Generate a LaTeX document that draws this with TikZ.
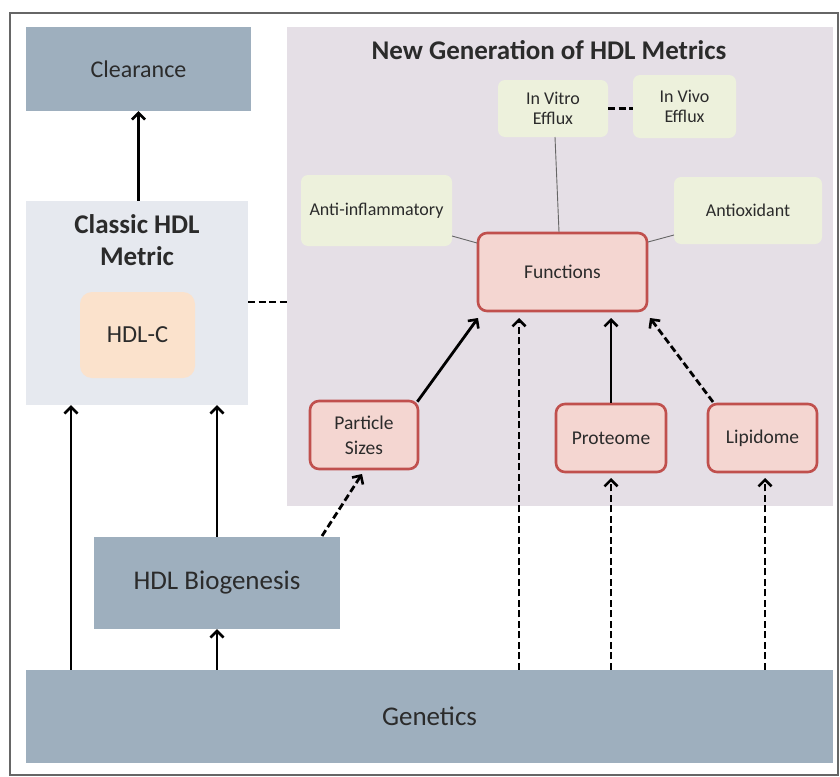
\documentclass[tikz,border=0pt]{standalone}
\usepackage{fontspec}
\setmainfont{Carlito}
\usetikzlibrary{arrows.meta}
\definecolor{slate}{HTML}{9EAFBE}
\definecolor{classicbg}{HTML}{E6E9EF}
\definecolor{peach}{HTML}{FBE2CC}
\definecolor{lav}{HTML}{E5DFE6}
\definecolor{leaf}{HTML}{EDF1DC}
\definecolor{pinkfill}{HTML}{F4D6D1}
\definecolor{redline}{HTML}{C0504D}
\definecolor{txt}{HTML}{2B2B2B}
\tikzset{
  slatebox/.style={fill=slate, draw=none, inner sep=0pt, text=txt},
  leafbox/.style={fill=leaf, draw=none, rounded corners=7pt, inner sep=0pt, text=txt, font=\fontsize{18}{20}\selectfont, align=center},
  redbox/.style={fill=pinkfill, draw=redline, line width=2.6pt, rounded corners=9pt, inner sep=0pt, text=txt, font=\fontsize{19.5}{25}\selectfont, align=center},
  arr/.style={line width=2.8pt, -{Straight Barb[length=6.5pt,width=13pt,line width=2.6pt]}},
  darr/.style={arr, dash pattern=on 7pt off 3.5pt},
  thinln/.style={draw=black!60, line width=0.9pt},
  dln/.style={line width=2.8pt, dash pattern=on 7pt off 3.5pt}
}
\begin{document}
\begin{tikzpicture}[x=1pt,y=-1pt]
\useasboundingbox (0,0) rectangle (840,776);
\fill[white] (0,0) rectangle (840,776);
\draw[black!60, line width=1.5pt] (10,13) rectangle (838,775);
% boxes
\node[slatebox, minimum width=225pt, minimum height=84pt, font=\fontsize{24}{28}\selectfont] (clear) at (138.5,69) {Clearance};
\node[fill=classicbg, inner sep=0pt, minimum width=222pt, minimum height=204pt] (classic) at (137,303) {};
\node[text=txt, font=\bfseries\fontsize{27}{32}\selectfont, align=center] (classictitle) at (137,240) {Classic HDL\\Metric};
\node[fill=peach, rounded corners=12pt, inner sep=0pt, minimum width=115pt, minimum height=86pt, text=txt, font=\fontsize{24.5}{28}\selectfont] (hdlc) at (137.5,335) {HDL-C};
\node[fill=lav, inner sep=0pt, minimum width=546pt, minimum height=479pt] (newgen) at (560,266.5) {};
\node[text=txt, font=\bfseries\fontsize{27}{30}\selectfont] (newtitle) at (549,50) {New Generation of HDL Metrics};
\node[leafbox, minimum width=110pt, minimum height=57pt] (vitro) at (553,108.5) {In Vitro\\Efflux};
\node[leafbox, minimum width=103pt, minimum height=63pt] (vivo) at (684.5,106.5) {In Vivo\\Efflux};
\node[leafbox, minimum width=151pt, minimum height=71pt] (anti) at (376.5,210.5) {Anti-inflammatory};
\node[leafbox, minimum width=148pt, minimum height=67pt] (antiox) at (748,210.5) {Antioxidant};
\node[redbox, minimum width=169pt, minimum height=78pt] (func) at (562.5,272) {Functions};
\node[redbox, minimum width=108pt, minimum height=68pt] (part) at (364,435) {Particle\\Sizes};
\node[redbox, minimum width=110pt, minimum height=68pt] (prot) at (611,438) {Proteome};
\node[redbox, minimum width=109pt, minimum height=68pt] (lipid) at (762.5,438) {Lipidome};
\node[slatebox, minimum width=246pt, minimum height=92pt, font=\fontsize{27}{30}\selectfont] (bio) at (217,583) {HDL Biogenesis};
\node[slatebox, minimum width=807pt, minimum height=93pt, font=\fontsize{27}{30}\selectfont] (gen) at (429.5,716.5) {Genetics};
% coordinates
\coordinate (vitroB) at (555,137);
\coordinate (funcT) at (559,232);
\coordinate (antiR) at (452,236);
\coordinate (funcL) at (477,243);
\coordinate (antioxL) at (674,235);
\coordinate (funcR) at (648,242);
% thin links
\draw[thinln] (vitroB) -- (funcT);
\draw[thinln] (antiR) -- (funcL);
\draw[thinln] (antioxL) -- (funcR);
% dashed links
\draw[dln] (vitro.east) -- (vivo.west |- vitro.east);
\draw[dln] (classic.east |- 0,302) -- (newgen.west |- 0,302);
% arrows
\draw[arr] (classic.north -| clear) -- (clear.south);
\draw[arr] (gen.north -| 71,0) -- (classic.south -| 71,0);
\draw[arr] (bio.north) -- (classic.south -| bio);
\draw[arr] (gen.north -| bio) -- (bio.south);
\draw[darr] (322,536) -- (362,474);
\draw[arr] (part.north east) ++(-2,2) -- (478,318);
\draw[darr] (gen.north -| 519,0) -- (519,318);
\draw[arr] (prot.north) -- (prot.north |- 0,318);
\draw[darr] (713,402) -- (650,318);
\draw[darr] (gen.north -| prot) -- (prot.south |- 0,478);
\draw[darr] (gen.north -| 765,0) -- (765,478);
\end{tikzpicture}
\end{document}
